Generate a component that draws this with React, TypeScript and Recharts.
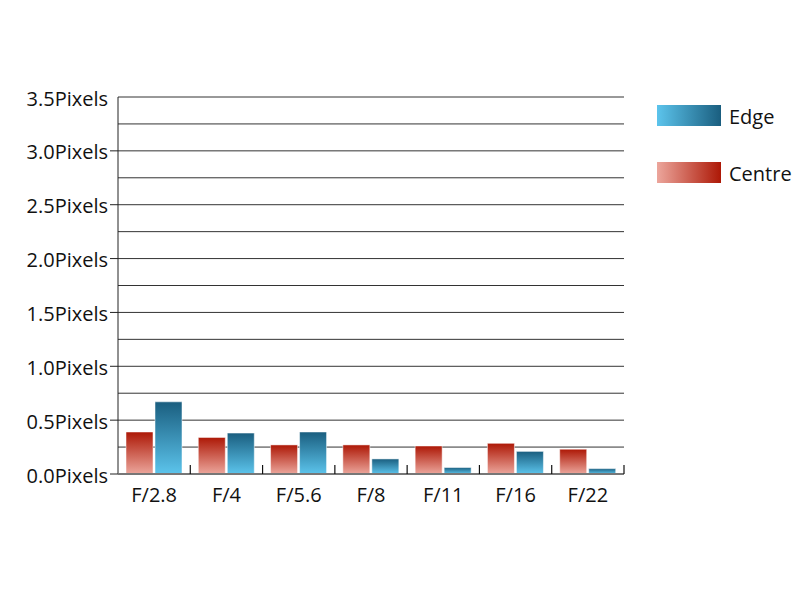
import React from 'react';
import { BarChart, Bar, XAxis, YAxis, CartesianGrid } from 'recharts';

const categories = ['F/2.8', 'F/4', 'F/5.6', 'F/8', 'F/11', 'F/16', 'F/22'];
const centreValues = [0.39, 0.34, 0.27, 0.27, 0.26, 0.285, 0.23];
const edgeValues = [0.67, 0.38, 0.39, 0.14, 0.06, 0.21, 0.05];
const yTicks = [0, 0.25, 0.5, 0.75, 1, 1.25, 1.5, 1.75, 2, 2.25, 2.5, 2.75, 3, 3.25, 3.5];
const yLabels = ['0.0Pixels', '', '0.5Pixels', '', '1.0Pixels', '', '1.5Pixels', '', '2.0Pixels', '', '2.5Pixels', '', '3.0Pixels', '', '3.5Pixels'];
const legendNames = ['Edge', 'Centre'];

const data = categories.map((c, i) => ({ name: c, centre: centreValues[i], edge: edgeValues[i] }));

const FONT = '"Open Sans", sans-serif';
const W = 800;
const H = 600;
const M = { top: 97, right: 176, bottom: 96, left: 0 };
const YW = 118;
const band = (W - M.left - M.right - YW) / categories.length;

const YTick = (props: any) => {
  const { x, y, payload } = props;
  const label = yLabels[yTicks.indexOf(payload.value)];
  if (!label) return null;
  return (
    <g>
      {payload.value < 3.5 && <line x1={x} x2={x + 8} y1={y} y2={y} stroke="#222" strokeWidth={1} />}
      <text x={x - 2} y={y + 1} textAnchor="end" dominantBaseline="central" fontFamily={FONT} fontSize={20} fill="#111">
        {label}
      </text>
    </g>
  );
};

const XTick = (props: any) => {
  const { x, y, payload } = props;
  const rx = x + band / 2;
  return (
    <g>
      <line x1={rx} x2={rx} y1={y - 9} y2={y} stroke="#111" strokeWidth={1.2} />
      <text x={x} y={y + 20} textAnchor="middle" dominantBaseline="central" fontFamily={FONT} fontSize={20} fill="#111">
        {payload.value}
      </text>
    </g>
  );
};

const LegendBox = () => (
  <svg width={150} height={90} style={{ position: 'absolute', left: 657, top: 105, overflow: 'visible' }}>
    <defs>
      <linearGradient id="legEdge" x1="0" y1="0" x2="1" y2="0">
        <stop offset="0%" stopColor="#5cc4ec" />
        <stop offset="100%" stopColor="#1a5e7f" />
      </linearGradient>
      <linearGradient id="legCentre" x1="0" y1="0" x2="1" y2="0">
        <stop offset="0%" stopColor="#eca69c" />
        <stop offset="100%" stopColor="#ad1806" />
      </linearGradient>
    </defs>
    <rect x={0} y={0} width={64} height={21} fill="url(#legEdge)" />
    <text x={72} y={11} dominantBaseline="central" fontFamily={FONT} fontSize={20} fill="#111">{legendNames[0]}</text>
    <rect x={0} y={57} width={64} height={21} fill="url(#legCentre)" />
    <text x={72} y={68} dominantBaseline="central" fontFamily={FONT} fontSize={20} fill="#111">{legendNames[1]}</text>
  </svg>
);

export default function App() {
  return (
    <div style={{ position: 'absolute', left: 0, top: 0, width: W, height: H, background: '#fff' }}>
      <BarChart width={W} height={H} data={data} margin={M} barCategoryGap={8} barGap={2}>
        <defs>
          <linearGradient id="gEdge" x1="0" y1="0" x2="0" y2="1">
            <stop offset="0%" stopColor="#1a5e7f" />
            <stop offset="100%" stopColor="#5cc4ec" />
          </linearGradient>
          <linearGradient id="gCentre" x1="0" y1="0" x2="0" y2="1">
            <stop offset="0%" stopColor="#ad1806" />
            <stop offset="100%" stopColor="#eca69c" />
          </linearGradient>
        </defs>
        <CartesianGrid horizontal vertical={false} stroke="#333" strokeWidth={1} />
        <YAxis
          domain={[0, 3.5]}
          ticks={yTicks}
          interval={0}
          width={YW}
          tick={<YTick />}
          tickLine={false}
          tickSize={8}
          tickMargin={0}
          axisLine={{ stroke: '#222', strokeWidth: 1 }}
          allowDataOverflow
        />
        <XAxis
          dataKey="name"
          height={30}
          tick={<XTick />}
          tickLine={false}
          tickSize={0}
          tickMargin={0}
          interval={0}
          axisLine={{ stroke: '#777', strokeWidth: 2 }}
        />
        <Bar dataKey="centre" name="Centre" fill="url(#gCentre)" stroke="rgba(255,255,255,0.5)" strokeWidth={1} isAnimationActive={false} />
        <Bar dataKey="edge" name="Edge" fill="url(#gEdge)" stroke="rgba(255,255,255,0.5)" strokeWidth={1} isAnimationActive={false} />
      </BarChart>
      <LegendBox />
    </div>
  );
}
